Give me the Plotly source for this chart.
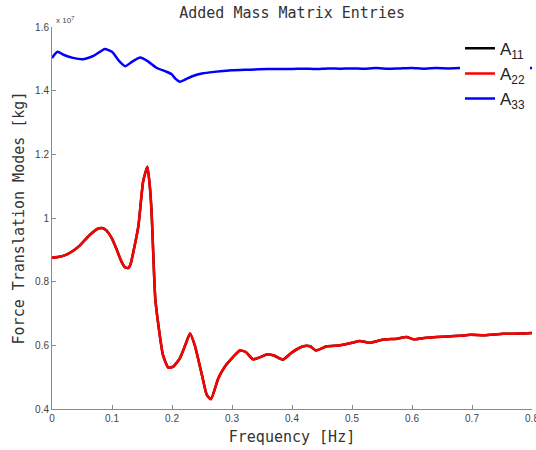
import plotly.graph_objects as go

# Frequency [Hz] and added-mass values in units of 1e7 kg
freq_a22 = [0.0, 0.012, 0.024, 0.036, 0.047, 0.062, 0.077, 0.085, 0.091, 0.1, 0.108, 0.116,
            0.122, 0.127, 0.131, 0.135, 0.144, 0.152, 0.159, 0.163, 0.166, 0.172, 0.177,
            0.185, 0.194, 0.202, 0.213, 0.222, 0.23, 0.238, 0.25, 0.258, 0.265, 0.277,
            0.288, 0.302, 0.313, 0.323, 0.335, 0.347, 0.358, 0.37, 0.385, 0.4, 0.419,
            0.43, 0.44, 0.458, 0.48, 0.5, 0.513, 0.529, 0.552, 0.575, 0.591, 0.602,
            0.62, 0.641, 0.66, 0.68, 0.697, 0.72, 0.752, 0.78, 0.8]
a22 = [0.875, 0.878, 0.885, 0.898, 0.915, 0.945, 0.967, 0.968, 0.96, 0.935, 0.9, 0.862,
       0.845, 0.843, 0.855, 0.888, 0.975, 1.116, 1.161, 1.1, 1.017, 0.75, 0.668,
       0.569, 0.53, 0.533, 0.559, 0.6, 0.637, 0.6, 0.506, 0.444, 0.431, 0.496,
       0.533, 0.564, 0.584, 0.579, 0.556, 0.563, 0.571, 0.568, 0.555, 0.578, 0.597,
       0.597, 0.584, 0.597, 0.6, 0.608, 0.614, 0.608, 0.618, 0.621, 0.626, 0.619,
       0.623, 0.626, 0.628, 0.63, 0.633, 0.632, 0.636, 0.637, 0.639]
# A11 coincides with A22 (drawn underneath, hidden by the red curve)
a11 = list(a22)

freq_a33 = [0.0, 0.009, 0.02, 0.035, 0.052, 0.07, 0.088, 0.1, 0.112, 0.122, 0.135, 0.147,
            0.16, 0.174, 0.19, 0.199, 0.206, 0.213, 0.222, 0.235, 0.25, 0.27, 0.3, 0.33,
            0.36, 0.4, 0.42, 0.44, 0.46, 0.48, 0.5, 0.52, 0.54, 0.56, 0.58, 0.6, 0.62,
            0.64, 0.66, 0.68, 0.7, 0.72, 0.74, 0.76, 0.78, 0.8]
a33 = [1.503, 1.522, 1.512, 1.503, 1.499, 1.51, 1.531, 1.522, 1.493, 1.477, 1.493, 1.504,
       1.492, 1.472, 1.46, 1.452, 1.437, 1.428, 1.435, 1.446, 1.454, 1.459, 1.464, 1.466,
       1.468, 1.468, 1.469, 1.468, 1.47, 1.469, 1.47, 1.469, 1.471, 1.469, 1.47, 1.471, 1.469,
       1.471, 1.47, 1.471, 1.47, 1.471, 1.47, 1.471, 1.47, 1.471]

x_ticks = [0, 0.1, 0.2, 0.3, 0.4, 0.5, 0.6, 0.7, 0.8]
x_tick_labels = ["0", "0.1", "0.2", "0.3", "0.4", "0.5", "0.6", "0.7", "0.8"]
y_ticks = [0.4, 0.6, 0.8, 1.0, 1.2, 1.4, 1.6]
y_tick_labels = ["0.4", "0.6", "0.8", "1", "1.2", "1.4", "1.6"]

mono = "DejaVu Sans Mono"
fig = go.Figure()
fig.add_trace(go.Scatter(x=freq_a22, y=a11, mode="lines", name="A<sub>11</sub>",
                         line=dict(color="#000000", width=2.5, shape="spline", smoothing=0.5)))
fig.add_trace(go.Scatter(x=freq_a22, y=a22, mode="lines", name="A<sub>22</sub>",
                         line=dict(color="#ff0000", width=2.5, shape="spline", smoothing=0.5)))
fig.add_trace(go.Scatter(x=freq_a33, y=a33, mode="lines", name="A<sub>33</sub>",
                         line=dict(color="#0000ff", width=2.5, shape="spline", smoothing=0.5)))

axis_common = dict(showgrid=False, zeroline=False, showline=True, linecolor="#8a8a8a",
                   linewidth=1, ticks="inside", ticklen=4, tickcolor="#8a8a8a",
                   ticklabeloverflow="allow", automargin=False,
                   tickfont=dict(family="Liberation Sans, Arial", size=10, color="#444444"))
fig.update_xaxes(range=[0, 0.8], tickvals=x_ticks, ticktext=x_tick_labels,
                 title=dict(text="Frequency [Hz]", font=dict(family=mono, size=15, color="#333333"),
                            standoff=8), **axis_common)
fig.update_yaxes(range=[0.4, 1.6], tickvals=y_ticks, ticktext=y_tick_labels,
                 title=dict(text="Force Translation Modes [kg]",
                            font=dict(family=mono, size=15, color="#333333"), standoff=6),
                 **axis_common)

fig.update_layout(
    width=536, height=450,
    margin=dict(l=52, r=4, t=27, b=41, autoexpand=False),
    paper_bgcolor="white", plot_bgcolor="white",
    title=dict(text="Added Mass Matrix Entries", x=0.545, xanchor="center", y=0.972, yanchor="middle",
               font=dict(family=mono, size=15, color="#333333")),
    legend=dict(x=0.85, y=0.99, xanchor="left", yanchor="top", bgcolor="white",
                font=dict(family="Liberation Sans, Arial", size=17, color="#222222"),
                tracegroupgap=0, itemwidth=30),
    showlegend=True,
    annotations=[dict(text="x 10<sup>7</sup>", xref="paper", yref="paper", x=0.0, y=1.0,
                      xanchor="left", yanchor="bottom", xshift=2, showarrow=False,
                      font=dict(family="Liberation Sans, Arial", size=8, color="#444444"))],
)

fig.write_html("out.html")
